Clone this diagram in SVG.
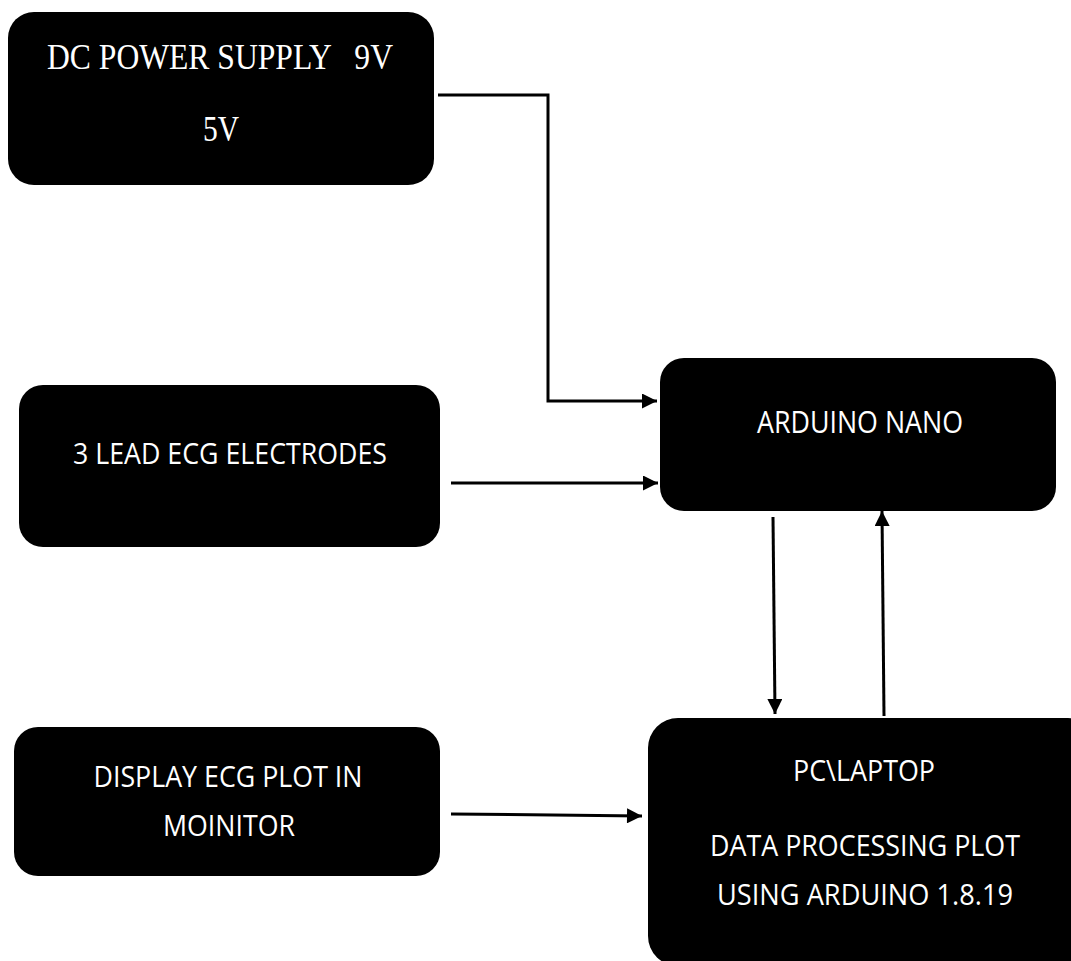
<svg xmlns="http://www.w3.org/2000/svg" width="1071" height="961" viewBox="0 0 1071 961">
<style>
.box{fill:#000}
.t{fill:#fff;font-family:"Open Sans","Liberation Sans",sans-serif;font-size:30px;text-anchor:middle}
.ts{fill:#fff;font-family:"Liberation Serif",serif;font-size:35px}
.c{stroke:#000;stroke-width:3;fill:none}
</style>
<defs>
<marker id="ah" viewBox="0 0 10 10" refX="10" refY="5" markerWidth="18" markerHeight="15" markerUnits="userSpaceOnUse" orient="auto">
<path d="M0,0 L10,5 L0,10 z" fill="#000"/>
</marker>
</defs>
<rect width="1071" height="961" fill="#fff"/>
<g id="connectors">
<path class="c" d="M438,95 H548 V401 H657" marker-end="url(#ah)"/>
<path class="c" d="M451,483 H658" marker-end="url(#ah)"/>
<path class="c" d="M773,517 L775,714" marker-end="url(#ah)"/>
<path class="c" d="M884,716 L882,511" marker-end="url(#ah)"/>
<path class="c" d="M451,814 L642,816" marker-end="url(#ah)"/>
</g>
<g id="dc-power">
<rect class="box" x="8" y="12" width="426" height="173" rx="26"/>
<text class="ts" x="47" y="69" textLength="346" lengthAdjust="spacingAndGlyphs" xml:space="preserve">DC POWER SUPPLY   9V</text>
<text class="ts" x="203" y="141" textLength="36" lengthAdjust="spacingAndGlyphs">5V</text>
</g>
<g id="arduino-nano">
<rect class="box" x="660" y="358" width="396" height="153" rx="24"/>
<text class="t" x="860" y="433" style="font-size:31px" textLength="206" lengthAdjust="spacingAndGlyphs">ARDUINO NANO</text>
</g>
<g id="ecg-electrodes">
<rect class="box" x="19" y="385" width="421" height="162" rx="24"/>
<text class="t" x="230" y="464" textLength="314" lengthAdjust="spacingAndGlyphs">3 LEAD ECG ELECTRODES</text>
</g>
<g id="display">
<rect class="box" x="14" y="727" width="426" height="149" rx="24"/>
<text class="t" x="228" y="787" textLength="269" lengthAdjust="spacingAndGlyphs">DISPLAY ECG PLOT IN</text>
<text class="t" x="229" y="836" textLength="132" lengthAdjust="spacingAndGlyphs">MOINITOR</text>
</g>
<g id="pc-laptop">
<rect class="box" x="648" y="718" width="450" height="248" rx="30"/>
<text class="t" x="864" y="781" textLength="142" lengthAdjust="spacingAndGlyphs">PC\LAPTOP</text>
<text class="t" x="865" y="856" textLength="310" lengthAdjust="spacingAndGlyphs">DATA PROCESSING PLOT</text>
<text class="t" x="865" y="905" textLength="296" lengthAdjust="spacingAndGlyphs">USING ARDUINO 1.8.19</text>
</g>
</svg>
